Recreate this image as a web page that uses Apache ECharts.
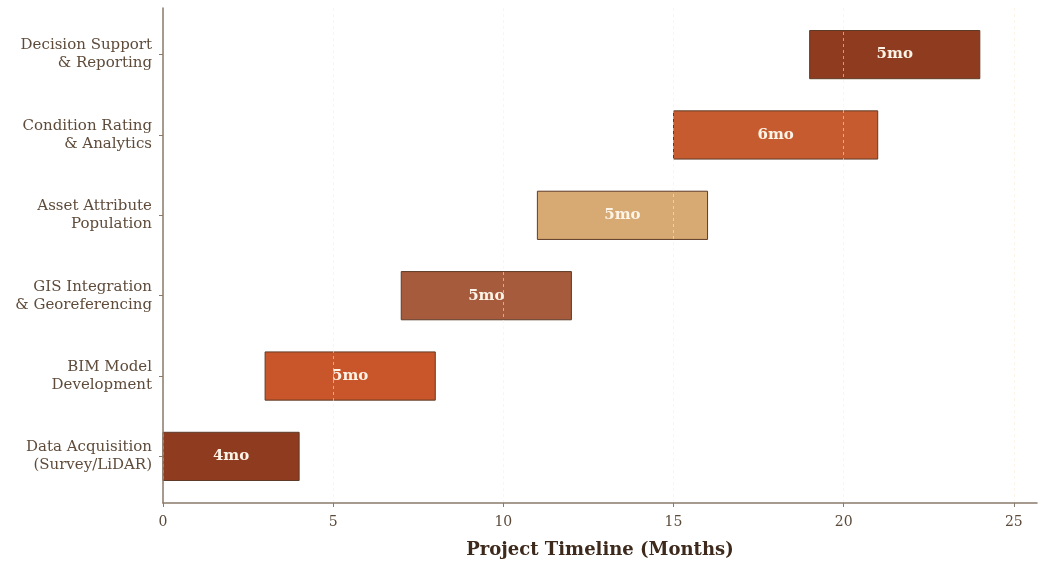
<!DOCTYPE html>
<html>
<head>
<meta charset="utf-8">
<script src="https://cdn.jsdelivr.net/npm/echarts@6/dist/echarts.min.js"></script>
<style>html,body{margin:0;padding:0;background:#fff}#c{width:1039px;height:565px}</style>
</head>
<body>
<div id="c"></div>
<script>
const categories = ["Data Acquisition\n(Survey/LiDAR)", "BIM Model\nDevelopment", "GIS Integration\n& Georeferencing", "Asset Attribute\nPopulation", "Condition Rating\n& Analytics", "Decision Support\n& Reporting"];
const starts = [0, 3, 7, 11, 15, 19];
const durations = [4, 5, 5, 5, 6, 5];
const xTicks = [0, 5, 10, 15, 20, 25];
const palette = ["#8E3B1F", "#C9552A", "#A65B3C", "#D6AA72", "#C75B30", "#8E3B1F"];

const data = categories.map((c, i) => [starts[i], starts[i] + durations[i], i, durations[i]]);
const font = "DejaVu Serif";
const chart = echarts.init(document.getElementById('c'), null, {renderer: 'canvas'});
chart.setOption({
  backgroundColor: '#ffffff',
  animation: false,
  grid: {left: 163, right: 2, top: 8, bottom: 62, containLabel: false},
  xAxis: {
    type: 'value', min: 0, max: 25.68, interval: 5, z: 5,
    name: 'Project Timeline (Months)', nameLocation: 'middle', nameGap: 38,
    nameTextStyle: {fontFamily: font, fontSize: 18, fontWeight: 'bold', color: '#3d2a1c'},
    axisLine: {show: true, onZero: false, lineStyle: {color: '#8a7a6a', width: 1.5}},
    axisTick: {show: true, length: 4, customValues: xTicks, lineStyle: {color: '#8a7a6a'}},
    axisLabel: {customValues: xTicks, fontFamily: font, fontSize: 14, color: '#5b4a3a', margin: 12},
    splitLine: {show: true, lineStyle: {color: 'rgba(255,235,215,0.55)', type: [3, 3], width: 1}}
  },
  yAxis: {
    type: 'value', min: -0.58, max: 5.58, z: 6,
    axisLine: {show: true, onZero: false, lineStyle: {color: '#8a7a6a', width: 1.5}},
    axisTick: {show: true, length: 4, customValues: [0,1,2,3,4,5], lineStyle: {color: '#8a7a6a'}},
    axisLabel: {customValues: [0,1,2,3,4,5], formatter: v => categories[Math.round(v)] || '',
      fontFamily: font, fontSize: 15, color: '#5e4b3a', align: 'right', lineHeight: 18, margin: 11, padding: [4, 0, 0, 0]},
    splitLine: {show: false}
  },
  series: [{
    type: 'custom',
    z: 2,
    data: data,
    encode: {x: [0, 1], y: 2},
    renderItem: function (params, api) {
      const s = api.coord([api.value(0), api.value(2)]);
      const e = api.coord([api.value(1), api.value(2)]);
      const h = api.size([0, 0.6])[1];
      const idx = params.dataIndex;
      return {
        type: 'rect',
        shape: {x: s[0], y: s[1] - h / 2, width: e[0] - s[0], height: h},
        style: {fill: palette[idx], stroke: '#5e3b26', lineWidth: 1},
        textContent: {
          style: {text: api.value(3) + 'mo', fill: '#fdf3e6', fontFamily: font, fontSize: 15, fontWeight: 'bold'}
        },
        textConfig: {position: 'inside'}
      };
    }
  }]
});
</script>
</body>
</html>
